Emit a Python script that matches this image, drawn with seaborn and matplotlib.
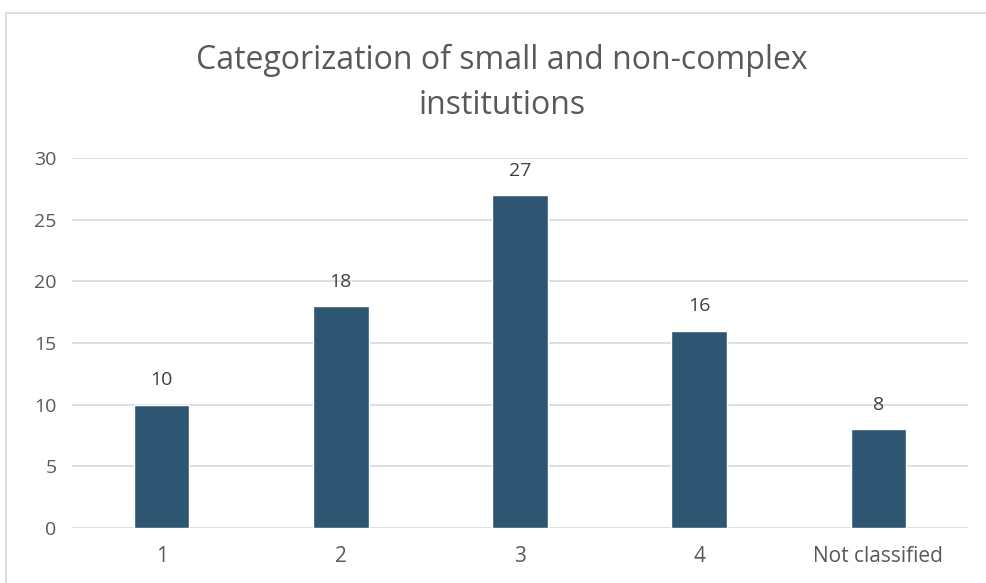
import matplotlib
matplotlib.use("Agg")
import matplotlib.pyplot as plt
import seaborn as sns
import pandas as pd
from matplotlib.patches import Rectangle

categories = ["1", "2", "3", "4", "Not classified"]
values = [10, 18, 27, 16, 8]
yticks = [0, 5, 10, 15, 20, 25, 30]

sns.set_theme(style="white")
plt.rcParams['font.family'] = ['Open Sans', 'DejaVu Sans']

W, H = 986, 583
fig = plt.figure(figsize=(W/100, H/100), dpi=100)
ax = fig.add_axes([72/W, 1-528/H, (968-72)/W, (528-158)/H])

df = pd.DataFrame({"cat": categories, "val": values})
sns.barplot(data=df, x="cat", y="val", color="#2E5572", width=0.31, ax=ax, saturation=1)

txt = "#595959"
ax.set_xlim(-0.5, 4.5)
ax.set_ylim(0, 30)
ax.set_yticks(yticks)
ax.set_yticklabels([str(t) for t in yticks])
ax.yaxis.grid(True, color="#D9D9D9", linewidth=1.2)
ax.set_axisbelow(True)
for s in ax.spines.values():
    s.set_visible(False)
ax.tick_params(axis="both", length=0, colors=txt, labelsize=14)
ax.tick_params(axis="x", labelsize=15, pad=13)
ax.tick_params(axis="y", pad=11)
ax.set_xlabel("")
ax.set_ylabel("")

for i, v in enumerate(values):
    ax.annotate(str(v), (i, v), xytext=(0, 11), textcoords="offset points",
                ha="center", va="bottom", color="#404040", fontsize=14)

fig.text(502/W, 1-83/H, "Categorization of small and non-complex\ninstitutions",
         ha="center", va="center", fontsize=23, color=txt, linespacing=1.5)

fig.patches.append(Rectangle((6/W, -0.1), 1.2, 1-13/H+0.1, transform=fig.transFigure,
                             fill=False, edgecolor="#D9D9D9", linewidth=1.2))

fig.savefig("out.png", dpi=100)
